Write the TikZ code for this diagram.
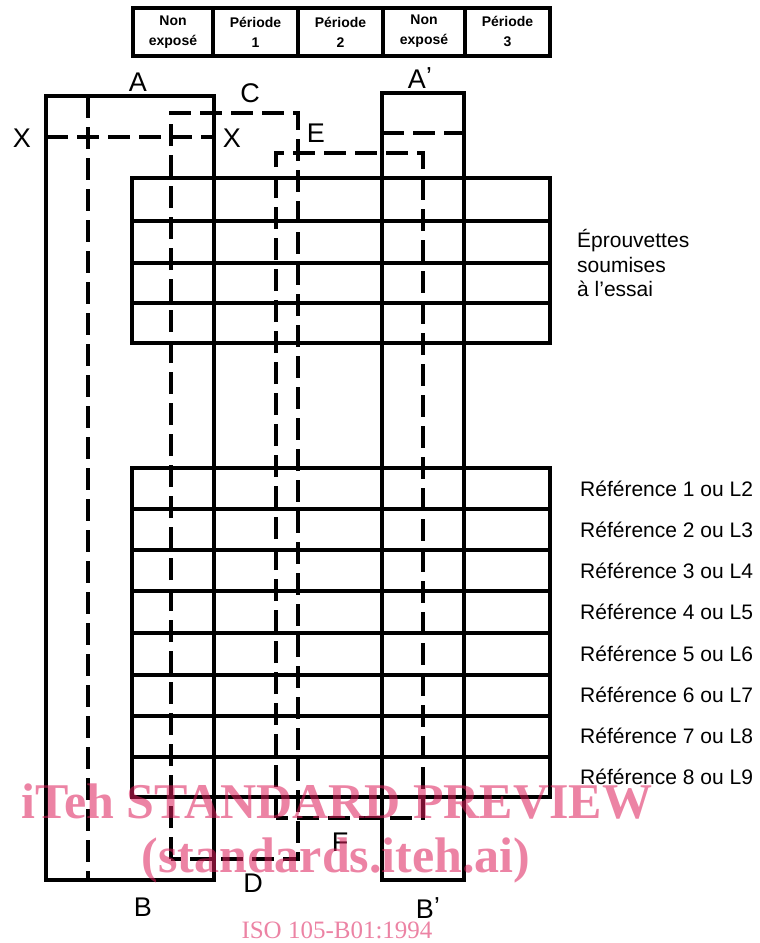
\documentclass[tikz,border=0pt]{standalone}
\usepackage{fontspec}
\setmainfont{Liberation Sans}
\newfontfamily\wmfont{Liberation Serif}
\definecolor{wm}{RGB}{220,30,90}
\begin{document}
\begin{tikzpicture}[x=1pt,y=-1pt,
  heavy/.style={line width=4pt, line join=miter},
  dashline/.style={line width=3.2pt, dash pattern=on 22pt off 9pt},
  letter/.style={font=\fontsize{27}{27}\selectfont, inner sep=0pt},
  head/.style={font=\bfseries\fontsize{14}{20}\selectfont, align=center, inner sep=0pt},
  reflab/.style={font=\fontsize{21}{24}\selectfont, anchor=west, inner sep=0pt},
  wmark/.style={text=wm, text opacity=0.55, inner sep=0pt}]
\useasboundingbox (0,0) rectangle (760,943);

% header
\draw[heavy] (133,8) rectangle (550,56);
\foreach \x in {213,298,383,465} \draw[heavy] (\x,8) -- (\x,56);
\node[head] (h1) at (173,32) {Non\\expos\'e};
\node[head] (h2) at (255.5,32) {P\'eriode\\1};
\node[head] (h3) at (340.5,32) {P\'eriode\\2};
\node[head] (h4) at (424,31) {Non\\expos\'e};
\node[head] (h5) at (507.5,31) {P\'eriode\\3};

% tables
\draw[heavy] (132,178) rectangle (550,343);
\foreach \y in {221,263,303} \draw[heavy] (132,\y) -- (550,\y);
\draw[heavy] (132,468) rectangle (550,797);
\foreach \y in {509,550,591,633,675,716,757} \draw[heavy] (132,\y) -- (550,\y);

% boxes A-B and A'-B'
\draw[heavy] (46,96) rectangle (214,880);
\draw[heavy] (382,93) rectangle (464,880);

% dashed paths
\draw[dashline] (88,96) -- (88,880);
\draw[dashline] (46,137) -- (214,137);
\draw[dashline] (171,859) -- (171,113) -- (298,113) -- (298,859) -- cycle;
\draw[dashline] (276,818) -- (276,153) -- (423,153) -- (423,818) -- cycle;
\draw[dashline] (382,133) -- (464,133);

% letters
\node[letter] (lA) at (138,82) {A};
\node[letter] (lAp) at (417,78) {A\rlap{\raisebox{3pt}{\fontsize{26}{26}\selectfont\char"2019}}};
\node[letter] (lB) at (143,907) {B};
\node[letter] (lBp) at (425,908) {B\rlap{\raisebox{3pt}{\fontsize{26}{26}\selectfont\char"2019}}};
\node[letter] (lC) at (250,93) {C};
\node[letter] (lD) at (253,883) {D};
\node[letter] (lE) at (316,133) {E};
\node[letter] (lF) at (340,842) {F};
\node[letter] (lX1) at (22,138) {X};
\node[letter] (lX2) at (232,138) {X};

% right labels
\node[reflab, align=left, font=\fontsize{21}{24.5}\selectfont] (ep) at (577,263) {\'Eprouvettes\\soumises\\\`a l\char"2019essai};
\node[reflab] (r1) at (580,489) {R\'ef\'erence 1 ou L2};
\node[reflab] (r2) at (580,530) {R\'ef\'erence 2 ou L3};
\node[reflab] (r3) at (580,571) {R\'ef\'erence 3 ou L4};
\node[reflab] (r4) at (580,612) {R\'ef\'erence 4 ou L5};
\node[reflab] (r5) at (580,654) {R\'ef\'erence 5 ou L6};
\node[reflab] (r6) at (580,695) {R\'ef\'erence 6 ou L7};
\node[reflab] (r7) at (580,736) {R\'ef\'erence 7 ou L8};
\node[reflab] (r8) at (580,777) {R\'ef\'erence 8 ou L9};

% watermark
\node[wmark, font=\wmfont\bfseries\fontsize{50}{50}\selectfont, anchor=base] (w1) at (337,818) {iTeh STANDARD PREVIEW};
\node[wmark, font=\wmfont\bfseries\fontsize{50}{50}\selectfont, anchor=base] (w2) at (336,872) {(standards.iteh.ai)};
\node[wmark, font=\wmfont\fontsize{25}{25}\selectfont, anchor=base] (w3) at (337,938) {ISO 105-B01:1994};
\end{tikzpicture}
\end{document}
